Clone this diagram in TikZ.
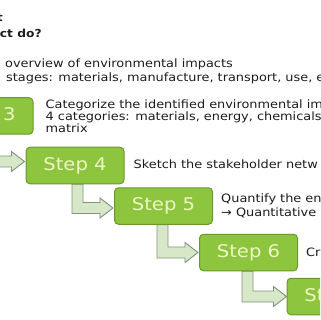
\documentclass[tikz,border=0pt]{standalone}
\usepackage{fontspec}
\newfontfamily\slidefont{DejaVu Sans}[FakeStretch=1.12]
\newfontfamily\descfont{DejaVu Sans}[FakeStretch=1.12]
\usepackage{tikz}
\usetikzlibrary{positioning, calc, backgrounds}

\definecolor{stepgreen}{RGB}{141,197,62}
\definecolor{stepborder}{RGB}{106,152,44}
\definecolor{steptext}{RGB}{238,246,196}
\definecolor{arrowfill}{RGB}{214,232,200}
\definecolor{arrowdraw}{RGB}{130,146,126}
\definecolor{desctext}{RGB}{28,28,28}

\tikzset{
  stepbox/.style={draw=stepborder, fill=stepgreen, line width=1pt, rounded corners=4pt,
    minimum width=98pt, minimum height=36.5pt, inner sep=0pt, text=steptext,
    font=\slidefont\fontsize{17.5}{17.5}\selectfont},
  desc/.style={inner sep=0pt, text=desctext, font=\descfont\fontsize{11.5}{13}\selectfont},
  blockarrow/.style={fill=arrowfill, draw=arrowdraw, line width=0.9pt, line join=miter}
}

\begin{document}
\begin{tikzpicture}[x=1pt, y=-1pt]
  \useasboundingbox (0,0) rectangle (320,320);
  \clip (0,0) rectangle (320,320);

  % Earlier steps (cut off)
  \node[desc, font=\descfont\bfseries\fontsize{11}{13}\selectfont, anchor=base east] (q1) at (3,22) {t};
  \node[desc, font=\descfont\bfseries\fontsize{11}{13}\selectfont, anchor=base east] (q2) at (42,38) {act do?};
  \node[desc, anchor=base west] (o1) at (5,68) {overview of environmental impacts};
  \node[desc, anchor=base west] (o2) at (6,82) {stages: materials, manufacture, transport, use, e};

  % Steps
  \node[stepbox] (s3) at (-16,116) {Step 3};
  \node[stepbox] (s4) at (75,165.5) {Step 4};
  \node[stepbox] (s5) at (163.5,206) {Step 5};
  \node[stepbox] (s6) at (248.5,252.5) {Step 6};
  \node[stepbox] (s7) at (336,296.5) {Step 7};

  % Descriptions
  \node[desc, align=left, font=\descfont\fontsize{11.5}{9.8}\selectfont, right=12pt of s3] (d3)
    {Categorize the identified environmental im\\4 categories: materials, energy, chemicals\\matrix};
  \node[desc, right=9pt of s4, yshift=1.5pt] (d4) {Sketch the stakeholder netw};
  \node[desc, align=left, font=\descfont\fontsize{11.5}{14}\selectfont, right=8pt of s5] (d5)
    {Quantify the en\\→ Quantitative};
  \node[desc, right=8pt of s6] (d6) {Cr};

  % Arrow tips
  \coordinate (t4) at ($(s4.west)+(-1,-4)$);
  \coordinate (t5) at ($(s5.west)+(-1,2)$);
  \coordinate (t6) at ($(s6.west)+(-1,0)$);
  \coordinate (t7) at ($(s7.west)+(0,0)$);

  % Elbow arrows
  \begin{scope}[on background layer]
    \draw[blockarrow] ($(s3.south)+(-5.5,0)$) |- ($(t4)+(-13,5.5)$) -- ++(0,4.5) -- (t4)
      -- ($(t4)+(-13,-10)$) -- ++(0,4.5) -| ($(s3.south)+(5.5,0)$) -- cycle;
    \draw[blockarrow] ($(s4.south)+(-3,0)$) |- ($(t5)+(-13,5.5)$) -- ++(0,4.5) -- (t5)
      -- ($(t5)+(-13,-10)$) -- ++(0,4.5) -| ($(s4.south)+(8,0)$) -- cycle;
    \draw[blockarrow] ($(s5.south)+(-6.5,0)$) |- ($(t6)+(-13,5.5)$) -- ++(0,4.5) -- (t6)
      -- ($(t6)+(-13,-10)$) -- ++(0,4.5) -| ($(s5.south)+(4.5,0)$) -- cycle;
    \draw[blockarrow] ($(s6.south)+(-6.5,0)$) |- ($(t7)+(-13,5.5)$) -- ++(0,4.5) -- (t7)
      -- ($(t7)+(-13,-10)$) -- ++(0,4.5) -| ($(s6.south)+(4.5,0)$) -- cycle;
  \end{scope}
\end{tikzpicture}
\end{document}
